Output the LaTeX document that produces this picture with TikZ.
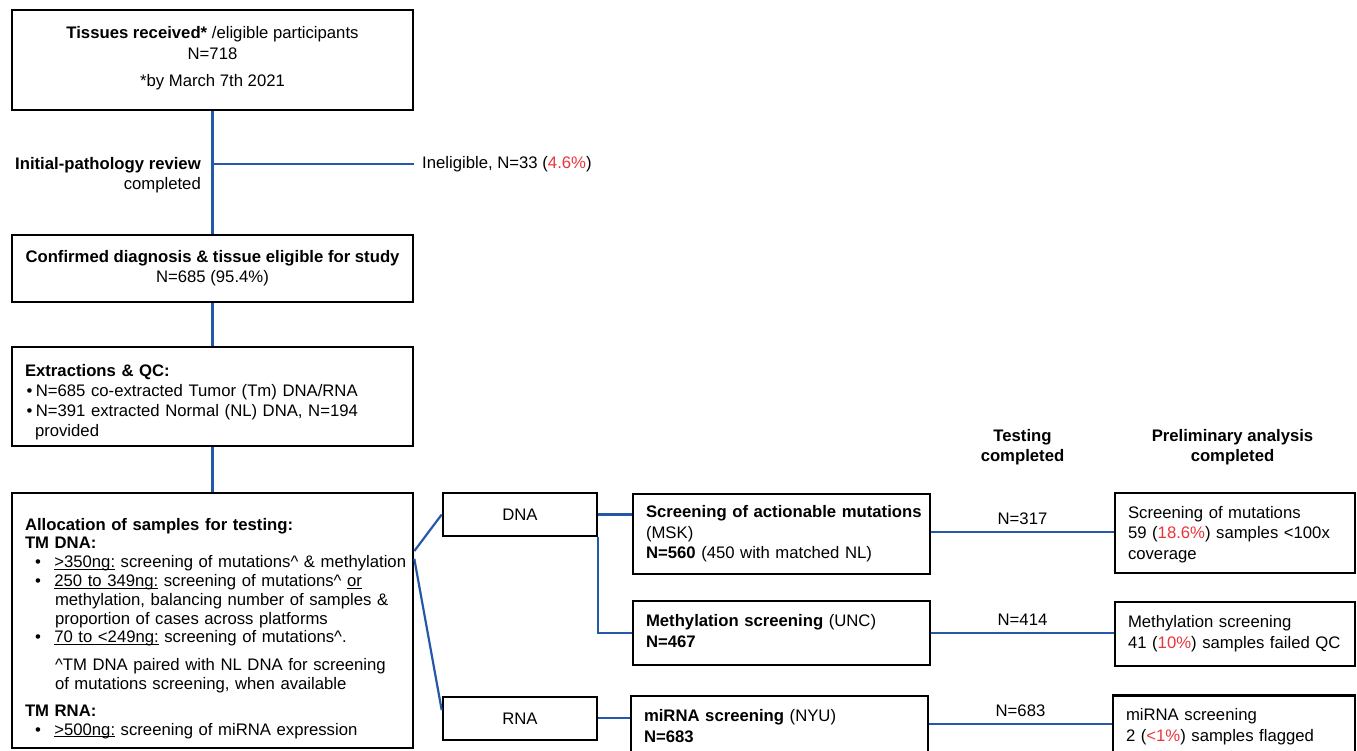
\documentclass[tikz,border=0pt]{standalone}
\usepackage{fontspec}
\setmainfont{Liberation Sans}
\definecolor{linkblue}{RGB}{38,88,170}
\definecolor{pctred}{RGB}{232,52,58}
\newcommand{\pct}[1]{\textcolor{pctred}{#1}}
\newcommand{\blt}{\hspace*{10pt}\textbullet\hspace{13.5pt}}
\newcommand{\rows}[1]{\begin{tabular}{@{}l@{}}#1\end{tabular}}
\newcommand{\ulx}[1]{\setbox0\hbox{#1}\rlap{\rule[-2.2pt]{\wd0}{1pt}}\box0\relax}
\begin{document}
\begin{tikzpicture}[x=1pt,y=-1pt,
  every node/.style={font=\fontsize{16.7}{20.3}\selectfont, inner sep=0pt},
  box/.style={draw=black, line width=2.6pt, rectangle, inner xsep=13pt},
  link/.style={draw=linkblue, line width=2.2pt},
  lbl/.style={anchor=center}]
\useasboundingbox (0,0) rectangle (1357,751);
% left column
\node[box, minimum width=401pt, minimum height=100pt, align=center] (recv) at (212.5,60)
  {\textbf{Tissues received*} /eligible participants\\N=718\\[7pt]*by March 7th 2021\rule[-7pt]{0pt}{7pt}};
\node[box, minimum width=401pt, minimum height=67pt, align=center] (conf) at (212.5,268.5)
  {\textbf{Confirmed diagnosis \& tissue eligible for study}\\N=685 (95.4\%)};
\node[box, minimum width=401pt, minimum height=99pt, text width=375pt, align=left] (extr) at (212.5,396.5)
  {\rows{\rule{0pt}{26pt}\textbf{Extractions \& QC:}\\
   \hspace*{1.5pt}\textbullet\kern3.5pt N=685 co-extracted Tumor (Tm) DNA/RNA\\
   \hspace*{1.5pt}\textbullet\kern3.5pt N=391 extracted Normal (NL) DNA, N=194\\
   \hspace*{10pt}provided}};
\node[box, minimum width=401pt, minimum height=255pt, text width=375pt, align=left,
  font=\fontsize{16.7}{18.8}\selectfont] (alloc) at (212.5,620.5)
  {\rows{\rule{0pt}{29.7pt}\textbf{Allocation of samples for testing:}\\
   \textbf{TM DNA:}\\
   \blt\ulx{>350ng:} screening of mutations\^{} \& methylation\\
   \blt\ulx{250 to 349ng:} screening of mutations\^{} \ulx{or}\\
   \hspace*{30pt}methylation, balancing number of samples \&\\
   \hspace*{30pt}proportion of cases across platforms\\
   \blt\ulx{70 to <249ng:} screening of mutations\^{}.\\[9pt]
   \hspace*{30pt}\^{}TM DNA paired with NL DNA for screening\\
   \hspace*{30pt}of mutations screening, when available\\[8pt]
   \textbf{TM RNA:}\\
   \blt\ulx{>500ng:} screening of miRNA expression}};
\node[anchor=east, align=right] (review) at (201,175)
  {\textbf{Initial-pathology review}\\completed};
\node[anchor=west] (inel) at (422,164) {Ineligible, N=33 (\pct{4.6\%})};
% middle column
\node[box, minimum width=154pt, minimum height=43pt] (dna) at (520,514.5) {DNA};
\node[box, minimum width=154pt, minimum height=43pt] (rna) at (520,718.3) {RNA};
\node[box, minimum width=297pt, minimum height=80pt, text width=271pt, align=left] (msk) at (781.5,534)
  {\rows{\textbf{Screening of actionable mutations}\\(MSK)\\\textbf{N=560} (450 with matched NL)}};
\node[box, minimum width=297pt, minimum height=64pt, text width=271pt, align=left] (unc) at (781.5,633)
  {\rows{\textbf{Methylation screening} (UNC)\\\textbf{N=467}}};
\node[box, minimum width=297pt, minimum height=60pt, text width=271pt, align=left] (nyu) at (779.5,726)
  {\rows{\rule{0pt}{18pt}\textbf{miRNA screening} (NYU)\\\textbf{N=683}}};
% right column
\node[align=center, font=\fontsize{16.7}{20}\selectfont\bfseries] (hdtest) at (1022.5,447)
  {Testing\\completed};
\node[align=center, font=\fontsize{16.7}{20}\selectfont\bfseries] (hdprelim) at (1232.5,447)
  {Preliminary analysis\\completed};
\node[box, minimum width=240pt, minimum height=80pt, text width=214pt, align=left] (mut) at (1235,533)
  {\rows{\rule{0pt}{18pt}Screening of mutations\\59 (\pct{18.6\%}) samples <100x\\coverage}};
\node[box, minimum width=240pt, minimum height=64pt, text width=214pt, align=left] (meth) at (1235,634)
  {\rows{Methylation screening\\41 (\pct{10\%}) samples failed QC}};
\node[box, minimum width=242pt, minimum height=60pt, text width=216pt, align=left] (mirres) at (1234,725.5)
  {\rows{\rule{0pt}{17pt}miRNA screening\\2 (\pct{<1\%}) samples flagged}};
% connectors
\draw[link] (recv.south) -- (conf.north);
\coordinate (branch) at (recv.south |- inel.west);
\draw[link] (branch) -- (recv.east |- inel.west);
\draw[link] (conf.south) -- (extr.north);
\draw[link] (extr.south) -- (alloc.north);
\draw[link] (alloc.19) -- (dna.west);
\draw[link] (alloc.17) -- (rna.174);
\draw[link] (dna.east) -- (dna.east -| msk.west);
\draw[link] (dna.south east) |- (unc.west);
\draw[link] (rna.east) -- (rna.east -| nyu.west);
\draw[link] (msk.east |- 0,532) -- node[lbl, above=6pt] (n317) {N=317} (mut.west |- 0,532);
\draw[link] (unc.east |- 0,633) -- node[lbl, above=6pt] (n414) {N=414} (meth.west |- 0,633);
\draw[link] (nyu.east |- 0,724) -- node[lbl, above=6pt] (n683) {N=683} (mirres.west |- 0,724);
\end{tikzpicture}
\end{document}
